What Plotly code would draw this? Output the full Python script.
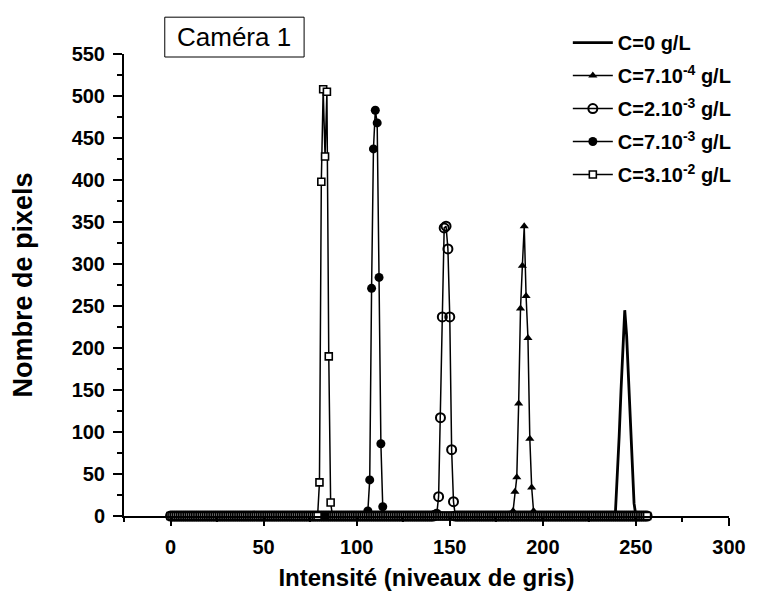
import plotly.graph_objects as go

# grey levels 0..256 (histogram bins)
grey = list(range(257))

# non-zero part of each histogram: first grey level + counts
c0_start = 238
c0_counts = [0, 5, 45, 95, 150, 205, 245, 215, 160, 105, 55, 15, 0]

c7e4_start = 183
c7e4_counts = [0, 6, 29, 46, 134, 247, 298, 345, 262, 212, 92, 34, 6, 0]

c2e3_start = 142
c2e3_counts = [1, 2, 23, 117, 237, 343, 345, 318, 237, 79, 17, 0]

c7e3_start = 105
c7e3_counts = [0, 6, 43, 271, 437, 483, 468, 284, 86, 11, 0]

c3e2_start = 79
c3e2_counts = [0, 40, 398, 508, 428, 505, 190, 16, 0]

labels = ["C=0 g/L", "C=7.10<sup>-4</sup> g/L", "C=2.10<sup>-3</sup> g/L",
          "C=7.10<sup>-3</sup> g/L", "C=3.10<sup>-2</sup> g/L"]


def histo(start, counts):
    y = [0] * len(grey)
    for i, c in enumerate(counts):
        y[start + i] = c
    return y


FONT = "Liberation Sans, Arial, sans-serif"

fig = go.Figure()

fig.add_trace(go.Scatter(
    x=grey, y=histo(c0_start, c0_counts), mode="lines", name=labels[0],
    legendgroup="g0", line=dict(color="black", width=2.8), cliponaxis=False,
))

styles = [
    (c7e4_start, c7e4_counts, dict(symbol="triangle-up", size=8, color="black")),
    (c2e3_start, c2e3_counts, dict(symbol="circle-open", size=9, color="black", line=dict(width=2))),
    (c7e3_start, c7e3_counts, dict(symbol="circle", size=9, color="black")),
    (c3e2_start, c3e2_counts, dict(symbol="square", size=7, color="white", line=dict(color="black", width=1.6))),
]
for k, ((start, counts, mk), name) in enumerate(zip(styles, labels[1:])):
    fig.add_trace(go.Scatter(
        x=grey, y=histo(start, counts), mode="lines+markers", name=name,
        legendgroup="g%d" % (k + 1),
        line=dict(color="black", width=1.5), marker=mk, cliponaxis=False,
    ))

axis_common = dict(
    showline=True, linecolor="black", linewidth=2, showgrid=False, zeroline=False,
    ticks="outside", tickcolor="black", tickwidth=2,
    tickfont=dict(family=FONT, size=20, color="black", weight="bold"),
)

fig.update_xaxes(
    range=[-25, 300], tick0=0, dtick=50, ticklen=8, ticklabelstandoff=4,
    minor=dict(dtick=25, ticklen=4, tickcolor="black", tickwidth=2, ticks="outside"),
    title=dict(text="Intensité (niveaux de gris)", standoff=12,
               font=dict(family=FONT, size=24, color="black", weight="bold")),
    **axis_common,
)
fig.update_yaxes(
    range=[0, 550], tick0=0, dtick=50, ticklen=9, ticklabelstandoff=4,
    minor=dict(dtick=25, ticklen=5, tickcolor="black", tickwidth=2, ticks="outside"),
    title=dict(text="Nombre de pixels", standoff=32,
               font=dict(family=FONT, size=27, color="black", weight="bold")),
    **axis_common,
)

# "Caméra 1" label in a framed box
fig.add_shape(
    type="rect", xref="paper", yref="paper",
    x0=0.0674, x1=0.2977, y0=0.9935, y1=1.0797,
    line=dict(color="black", width=1), fillcolor="white",
)
fig.add_annotation(
    text="Caméra 1", xref="paper", yref="paper", x=0.1826, y=1.037,
    xanchor="center", yanchor="middle",
    showarrow=False, font=dict(family=FONT, size=26, color="black"),
)

fig.update_layout(
    width=750, height=591,
    margin=dict(l=116, r=26, t=46, b=81),
    plot_bgcolor="white", paper_bgcolor="white",
    legend=dict(
        x=0.7336, y=1.067, xanchor="left", yanchor="top",
        bgcolor="rgba(0,0,0,0)", itemwidth=40, tracegroupgap=4,
        font=dict(family=FONT, size=20, color="black", weight="bold"),
    ),
)

fig.write_html("out.html")
